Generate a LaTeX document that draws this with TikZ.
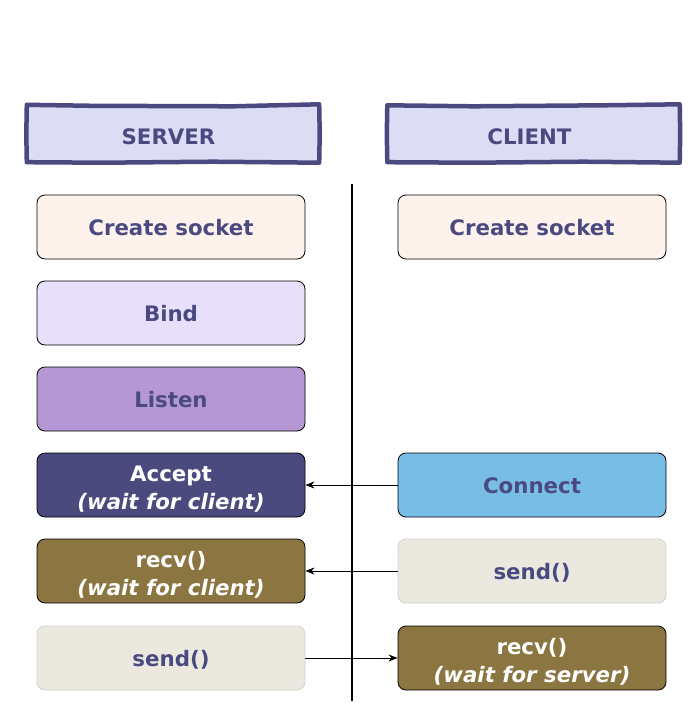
\documentclass[tikz,border=0pt]{standalone}
\usepackage{fontspec}
\setmainfont{DejaVu Sans}
\usetikzlibrary{arrows.meta}
\definecolor{txt}{HTML}{4A4A80}
\definecolor{hdrfill}{HTML}{DCDCF4}
\definecolor{cfill}{HTML}{FDF3EC}
\definecolor{bfill}{HTML}{E8E0FA}
\definecolor{lfill}{HTML}{B598D3}
\definecolor{afill}{HTML}{4B4A7E}
\definecolor{rfill}{HTML}{8B7540}
\definecolor{sfill}{HTML}{EBE8DF}
\definecolor{sline}{HTML}{D2D2CC}
\definecolor{confill}{HTML}{77BDE6}
\tikzset{
  stepbox/.style={rectangle, rounded corners=8pt, minimum width=268pt, minimum height=64pt,
    draw=black, line width=0.8pt, align=center, text=txt, text height=18pt, text depth=0.5pt,
    font=\fontsize{21.3}{27.5}\selectfont\bfseries},
  darkbox/.style={stepbox, text=white, text height=49pt, text depth=0.5pt},
  hdr/.style={rectangle, minimum width=292pt, minimum height=56pt, fill=hdrfill},
  hdrtext/.style={text=txt, font=\fontsize{21.3}{26}\selectfont\bfseries},
  sketch/.style={draw=txt, line width=4.5pt, line join=round},
  msg/.style={-{Stealth[length=9pt,width=7pt]}, line width=0.8pt, black}
}
\begin{document}
\begin{tikzpicture}[x=1pt,y=-1pt]
\useasboundingbox (0,0) rectangle (698,702);
% headers
\node[hdr] (sh) at (173,134) {};
\node[hdr] (ch) at (533.5,134) {};
\node[hdrtext] (sht) at (168.5,137) {SERVER};
\node[hdrtext] (cht) at (529.5,137) {CLIENT};
\draw[sketch] ([shift={(0,-1)}]sh.north west) -- ([shift={(-80,0)}]sh.north) -- ([shift={(60,0.5)}]sh.north) -- ([shift={(0,-1.5)}]sh.north east)
  -- ([shift={(0.5,0)}]sh.east) -- ([shift={(0,0.5)}]sh.south east) -- ([shift={(40,-0.5)}]sh.south) -- ([shift={(-70,0.5)}]sh.south) -- (sh.south west) -- ([shift={(-0.5,0)}]sh.west) -- cycle;
\draw[sketch] ([shift={(0,-0.5)}]ch.north west) -- ([shift={(-60,0.5)}]ch.north) -- ([shift={(70,-0.5)}]ch.north) -- ([shift={(0,-1.5)}]ch.north east)
  -- ([shift={(0.5,0)}]ch.east) -- ([shift={(0,0.5)}]ch.south east) -- ([shift={(50,-0.5)}]ch.south) -- ([shift={(-60,0.5)}]ch.south) -- (ch.south west) -- ([shift={(-0.5,0)}]ch.west) -- cycle;
% divider
\coordinate (dtop) at (352,184);
\coordinate (dbot) at (352,701);
\draw[line width=1.6pt] (dtop) -- (dbot);
% server column
\node[stepbox, fill=cfill] (s1) at (171,227) {Create socket};
\node[stepbox, fill=bfill] (s2) at (171,313) {Bind};
\node[stepbox, fill=lfill] (s3) at (171,399) {Listen};
\node[darkbox, fill=afill] (s4) at (171,485) {Accept\\\textit{(wait for client)}};
\node[darkbox, fill=rfill] (s5) at (171,571) {recv()\\\textit{(wait for client)}};
\node[stepbox, fill=sfill, draw=sline] (s6) at (171,658) {send()};
% client column
\node[stepbox, fill=cfill] (c1) at (532,227) {Create socket};
\node[stepbox, fill=confill] (c4) at (532,485) {Connect};
\node[stepbox, fill=sfill, draw=sline] (c5) at (532,571) {send()};
\node[darkbox, fill=rfill] (c6) at (532,658) {recv()\\\textit{(wait for server)}};
% messages
\draw[msg] (c4.west) -- (s4.east);
\draw[msg] (c5.west) -- (s5.east);
\draw[msg] (s6.east) -- (c6.west);
\end{tikzpicture}
\end{document}
